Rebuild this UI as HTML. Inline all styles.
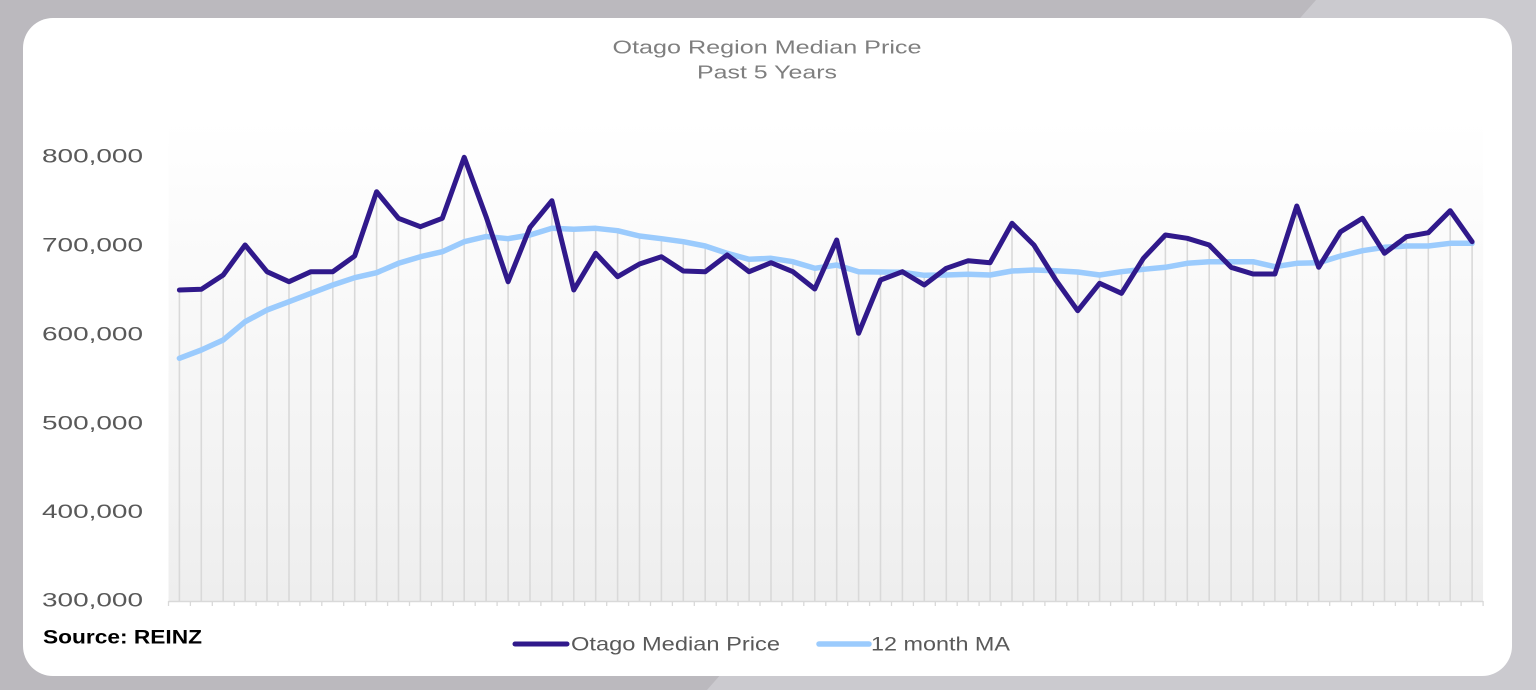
<!DOCTYPE html>
<html>
<head>
<meta charset="utf-8">
<style>
html,body{margin:0;padding:0;width:1536px;height:690px;overflow:hidden;background:#bbb9be;}
svg{display:block;}
text{font-family:"Liberation Sans",sans-serif;}
</style>
</head>
<body>
<svg width="1536" height="690" viewBox="0 0 1536 690" xmlns="http://www.w3.org/2000/svg">
  <defs>
    <linearGradient id="pg" x1="0" y1="0" x2="0" y2="1">
      <stop offset="0" stop-color="#ffffff"/>
      <stop offset="1" stop-color="#eeeeee"/>
    </linearGradient>
  </defs>
  <!-- background -->
  <rect x="0" y="0" width="1536" height="690" fill="#bbb9be"/>
  <polygon points="1316,0 1536,0 1536,690 707,690" fill="#cbcacf"/>
  <!-- card -->
  <rect x="23" y="18" width="1489" height="658" rx="30" ry="30" fill="#ffffff"/>

  <!-- title -->
  <text x="612.5" y="53.5" font-size="18.5" fill="#7f7f7f" textLength="309" lengthAdjust="spacingAndGlyphs">Otago Region Median Price</text>
  <text x="697" y="78.5" font-size="18.5" fill="#7f7f7f" textLength="140" lengthAdjust="spacingAndGlyphs">Past 5 Years</text>

  <!-- plot area -->
  <rect x="168.5" y="120" width="1314.6" height="481" fill="url(#pg)"/>

  <!-- drop lines -->
  <path fill="none" stroke="#d9d9d9" stroke-width="1.6" d="M179.4 290V601M201.3 289.3V601M223.2 275V601M245.1 245V601M267.0 271.7V601M289.0 281.7V601M310.9 271.7V601M332.8 271.7V601M354.7 256V601M376.6 191.7V601M398.5 218.3V601M420.4 226.7V601M442.3 218.3V601M464.2 157.3V601M486.1 216.7V601M508.1 238.7V601M530.0 227.3V601M551.9 200.7V601M573.8 229.3V601M595.7 228.3V601M617.6 230.7V601M639.5 236V601M661.4 238.7V601M683.3 241.7V601M705.2 246V601M727.2 253.3V601M749.1 259.3V601M771.0 258.3V601M792.9 261.7V601M814.8 268.3V601M836.7 240V601M858.6 271.7V601M880.5 272V601M902.4 271.7V601M924.3 275.3V601M946.3 268.3V601M968.2 260.7V601M990.1 262.7V601M1012.0 223.3V601M1033.9 245V601M1055.8 270.7V601M1077.7 272V601M1099.6 275V601M1121.5 271.7V601M1143.4 258.3V601M1165.4 235V601M1187.3 238.3V601M1209.2 245V601M1231.1 261.7V601M1253.0 261.7V601M1274.9 266.7V601M1296.8 206V601M1318.7 262.7V601M1340.6 231.7V601M1362.5 218.3V601M1384.5 247.3V601M1406.4 236.7V601M1428.3 232.7V601M1450.2 210.7V601M1472.1 241.7V601"/>

  <!-- x axis -->
  <line x1="168.5" y1="601.5" x2="1483.1" y2="601.5" stroke="#d9d9d9" stroke-width="1.5"/>
  <path fill="none" stroke="#d9d9d9" stroke-width="1.3" d="M168.5 601V606M190.4 601V606M212.3 601V606M234.2 601V606M256.1 601V606M278.0 601V606M299.9 601V606M321.8 601V606M343.7 601V606M365.6 601V606M387.6 601V606M409.5 601V606M431.4 601V606M453.3 601V606M475.2 601V606M497.1 601V606M519.0 601V606M540.9 601V606M562.8 601V606M584.7 601V606M606.7 601V606M628.6 601V606M650.5 601V606M672.4 601V606M694.3 601V606M716.2 601V606M738.1 601V606M760.0 601V606M781.9 601V606M803.8 601V606M825.8 601V606M847.7 601V606M869.6 601V606M891.5 601V606M913.4 601V606M935.3 601V606M957.2 601V606M979.1 601V606M1001.0 601V606M1022.9 601V606M1044.9 601V606M1066.8 601V606M1088.7 601V606M1110.6 601V606M1132.5 601V606M1154.4 601V606M1176.3 601V606M1198.2 601V606M1220.1 601V606M1242.0 601V606M1264.0 601V606M1285.9 601V606M1307.8 601V606M1329.7 601V606M1351.6 601V606M1373.5 601V606M1395.4 601V606M1417.3 601V606M1439.2 601V606M1461.1 601V606M1483.1 601V606"/>

  <!-- y labels -->
  <g font-size="19.5" fill="#595959">
    <text x="42" y="162.5" textLength="101" lengthAdjust="spacingAndGlyphs">800,000</text>
    <text x="42" y="251.5" textLength="101" lengthAdjust="spacingAndGlyphs">700,000</text>
    <text x="42" y="340.5" textLength="101" lengthAdjust="spacingAndGlyphs">600,000</text>
    <text x="42" y="429.3" textLength="101" lengthAdjust="spacingAndGlyphs">500,000</text>
    <text x="42" y="518" textLength="101" lengthAdjust="spacingAndGlyphs">400,000</text>
    <text x="42" y="606.5" textLength="101" lengthAdjust="spacingAndGlyphs">300,000</text>
  </g>

  <!-- 12 month MA -->
  <polyline fill="none" stroke="#9bcbfd" stroke-width="5.5" stroke-linejoin="round" stroke-linecap="round"
    points="179.4,358.3 201.3,350 223.2,340 245.1,321.7 267.0,310 289.0,301.7 310.9,293.3 332.8,285 354.7,277.7 376.6,272.7 398.5,263.3 420.4,256.7 442.3,251.7 464.2,241.7 486.1,236.5 508.1,238.7 530.0,235 551.9,228.3 573.8,229.3 595.7,228.3 617.6,230.7 639.5,236 661.4,238.7 683.3,241.7 705.2,246 727.2,253.3 749.1,259.3 771.0,258.3 792.9,261.7 814.8,268.3 836.7,265 858.6,271.7 880.5,272 902.4,272.3 924.3,275.3 946.3,275 968.2,274.3 990.1,275 1012.0,271 1033.9,270 1055.8,270.7 1077.7,272 1099.6,275 1121.5,271.7 1143.4,269.3 1165.4,267.3 1187.3,263.3 1209.2,261.7 1231.1,261.7 1253.0,261.7 1274.9,266.7 1296.8,263.3 1318.7,262.7 1340.6,256 1362.5,250.7 1384.5,247.3 1406.4,246 1428.3,246 1450.2,243.3 1472.1,243.3"/>

  <!-- Median -->
  <polyline fill="none" stroke="#30198b" stroke-width="5" stroke-linejoin="round" stroke-linecap="round"
    points="179.4,290 201.3,289.3 223.2,275 245.1,245 267.0,271.7 289.0,281.7 310.9,271.7 332.8,271.7 354.7,256 376.6,191.7 398.5,218.3 420.4,226.7 442.3,218.3 464.2,157.3 486.1,216.7 508.1,281.7 530.0,227.3 551.9,200.7 573.8,290 595.7,253.3 617.6,276.7 639.5,264 661.4,256.7 683.3,271 705.2,271.7 727.2,255 749.1,271.7 771.0,262.7 792.9,271.7 814.8,289 836.7,240 858.6,333.3 880.5,280 902.4,271.7 924.3,285 946.3,268.3 968.2,260.7 990.1,262.7 1012.0,223.3 1033.9,245 1055.8,280 1077.7,310.7 1099.6,283.3 1121.5,293.3 1143.4,258.3 1165.4,235 1187.3,238.3 1209.2,245 1231.1,267.3 1253.0,274 1274.9,274 1296.8,206 1318.7,267.3 1340.6,231.7 1362.5,218.3 1384.5,253.3 1406.4,236.7 1428.3,232.7 1450.2,210.7 1472.1,241.7"/>

  <!-- source -->
  <text x="43" y="643.3" font-size="19" font-weight="bold" fill="#000000" textLength="159" lengthAdjust="spacingAndGlyphs">Source: REINZ</text>

  <!-- legend -->
  <line x1="515" y1="644" x2="567" y2="644" stroke="#30198b" stroke-width="5" stroke-linecap="round"/>
  <text x="571" y="650.7" font-size="19.5" fill="#595959" textLength="209" lengthAdjust="spacingAndGlyphs">Otago Median Price</text>
  <line x1="819" y1="644" x2="869" y2="644" stroke="#9bcbfd" stroke-width="5.5" stroke-linecap="round"/>
  <text x="871" y="650.7" font-size="19.5" fill="#595959" textLength="139" lengthAdjust="spacingAndGlyphs">12 month MA</text>
</svg>
</body>
</html>
